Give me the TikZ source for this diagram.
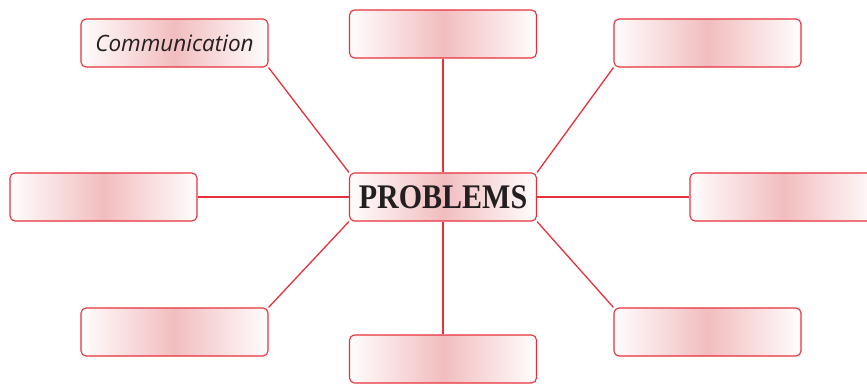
\documentclass[tikz,border=0pt]{standalone}
\usepackage{fontspec}
\setmainfont{Liberation Serif}
\newfontfamily\commfont{Open Sans}
\definecolor{linered}{HTML}{E8303A}
\definecolor{pinkmid}{HTML}{F2BDBF}
\definecolor{textdark}{HTML}{231F20}
\begin{document}
\begin{tikzpicture}[x=1pt,y=1pt,
  box/.style={draw=linered, line width=1.1pt, rounded corners=5pt,
    minimum width=187pt, minimum height=48pt, inner sep=0pt, text=textdark,
    left color=white!97!pinkmid, right color=white!97!pinkmid, middle color=pinkmid},
  conn/.style={color=linered, draw=linered, line width=1.3pt}]
\useasboundingbox (0,0) rectangle (867,383);
\clip (0,0) rectangle (867,383);
\node[box] (comm) at (174.5,340) {\commfont\itshape\fontsize{22.5}{26}\selectfont Communication};
\node[box] (top) at (443,349) {};
\node[box] (tr) at (707.5,340) {};
\node[box] (left) at (103.5,186) {};
\node[box] (right) at (783.5,186) {};
\node[box] (bl) at (174.5,51) {};
\node[box] (bottom) at (443,24) {};
\node[box] (br) at (707.5,51) {};
\node[box] (center) at (443,186) {\bfseries\fontsize{30}{34}\selectfont\scalebox{1}[1.15]{PROBLEMS}};
\draw[conn] (comm.south east) -- (center.north west);
\draw[conn] (top.south) -- (center.north);
\draw[conn] (tr.south west) -- (center.north east);
\draw[conn] (left.east) -- (center.west);
\draw[conn] (right.west) -- (center.east);
\draw[conn] (bl.north east) -- (center.south west);
\draw[conn] (bottom.north) -- (center.south);
\draw[conn] (br.north west) -- (center.south east);
\end{tikzpicture}
\end{document}
